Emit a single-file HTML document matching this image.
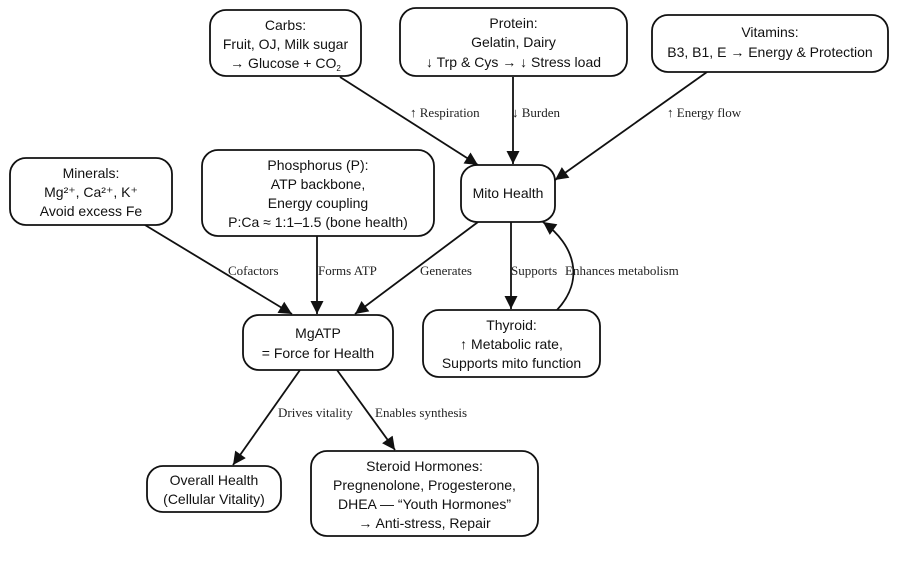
<!DOCTYPE html>
<html><head><meta charset="utf-8"><style>
html,body{margin:0;padding:0;background:#fff;width:909px;height:570px;overflow:hidden}
svg{display:block}
.n{font-family:"Liberation Sans",sans-serif;font-size:14px;fill:#111;text-anchor:middle}
.l{font-family:"Liberation Serif",serif;font-size:13px;fill:#222}
rect{fill:#fff;stroke:#111;stroke-width:1.8}
line,path.e{stroke:#111;stroke-width:1.8;fill:none}
</style></head><body>
<svg width="909" height="570" viewBox="0 0 909 570">
<defs><marker id="a" viewBox="0 0 10 10" refX="10" refY="5" markerWidth="15" markerHeight="13" markerUnits="userSpaceOnUse" orient="auto"><path d="M0,0L10,5L0,10z" fill="#111"/></marker></defs>
<line x1="340" y1="77" x2="478" y2="165" marker-end="url(#a)"/>
<line x1="513" y1="77" x2="513" y2="164" marker-end="url(#a)"/>
<line x1="707" y1="72" x2="555" y2="180" marker-end="url(#a)"/>
<line x1="145" y1="225" x2="292" y2="314" marker-end="url(#a)"/>
<line x1="317" y1="236" x2="317" y2="314" marker-end="url(#a)"/>
<line x1="478" y1="222" x2="355" y2="314" marker-end="url(#a)"/>
<line x1="511" y1="222" x2="511" y2="309" marker-end="url(#a)"/>
<path class="e" d="M557,310 C585,280 575,245 543,222" marker-end="url(#a)"/>
<line x1="300" y1="370" x2="233" y2="465" marker-end="url(#a)"/>
<line x1="337" y1="370" x2="395" y2="450" marker-end="url(#a)"/>
<text class="l" x="410" y="117">↑ Respiration</text>
<text class="l" x="512" y="117">↓ Burden</text>
<text class="l" x="667" y="117">↑ Energy flow</text>
<text class="l" x="228" y="275">Cofactors</text>
<text class="l" x="318" y="275">Forms ATP</text>
<text class="l" x="420" y="275">Generates</text>
<text class="l" x="511" y="275">Supports</text>
<text class="l" x="565" y="275">Enhances metabolism</text>
<text class="l" x="278" y="417">Drives vitality</text>
<text class="l" x="375" y="417">Enables synthesis</text>
<rect x="210" y="10" width="151" height="66" rx="16"/>
<text class="n" x="285.5" y="30">Carbs:</text>
<text class="n" x="285.5" y="49">Fruit, OJ, Milk sugar</text>
<text class="n" x="285.5" y="68">→ Glucose + CO<tspan font-size="8" dy="3">2</tspan></text>
<rect x="400" y="8" width="227" height="68" rx="16"/>
<text class="n" x="513.5" y="28">Protein:</text>
<text class="n" x="513.5" y="47">Gelatin, Dairy</text>
<text class="n" x="513.5" y="67">↓ Trp &amp; Cys → ↓ Stress load</text>
<rect x="652" y="15" width="236" height="57" rx="16"/>
<text class="n" x="770" y="37">Vitamins:</text>
<text class="n" x="770" y="57">B3, B1, E → Energy &amp; Protection</text>
<rect x="461" y="165" width="94" height="57" rx="16"/>
<text class="n" x="508" y="198">Mito Health</text>
<rect x="10" y="158" width="162" height="67" rx="16"/>
<text class="n" x="91" y="178">Minerals:</text>
<text class="n" x="91" y="197">Mg²⁺, Ca²⁺, K⁺</text>
<text class="n" x="91" y="216">Avoid excess Fe</text>
<rect x="202" y="150" width="232" height="86" rx="16"/>
<text class="n" x="318" y="170">Phosphorus (P):</text>
<text class="n" x="318" y="189">ATP backbone,</text>
<text class="n" x="318" y="208">Energy coupling</text>
<text class="n" x="318" y="227">P:Ca ≈ 1:1–1.5 (bone health)</text>
<rect x="243" y="315" width="150" height="55" rx="16"/>
<text class="n" x="318" y="338">MgATP</text>
<text class="n" x="318" y="358">= Force for Health</text>
<rect x="423" y="310" width="177" height="67" rx="16"/>
<text class="n" x="511.5" y="330">Thyroid:</text>
<text class="n" x="511.5" y="349">↑ Metabolic rate,</text>
<text class="n" x="511.5" y="368">Supports mito function</text>
<rect x="147" y="466" width="134" height="46" rx="16"/>
<text class="n" x="214" y="485">Overall Health</text>
<text class="n" x="214" y="504">(Cellular Vitality)</text>
<rect x="311" y="451" width="227" height="85" rx="16"/>
<text class="n" x="424.5" y="471">Steroid Hormones:</text>
<text class="n" x="424.5" y="490">Pregnenolone, Progesterone,</text>
<text class="n" x="424.5" y="509">DHEA — “Youth Hormones”</text>
<text class="n" x="424.5" y="528">→ Anti-stress, Repair</text>
</svg>
</body></html>
